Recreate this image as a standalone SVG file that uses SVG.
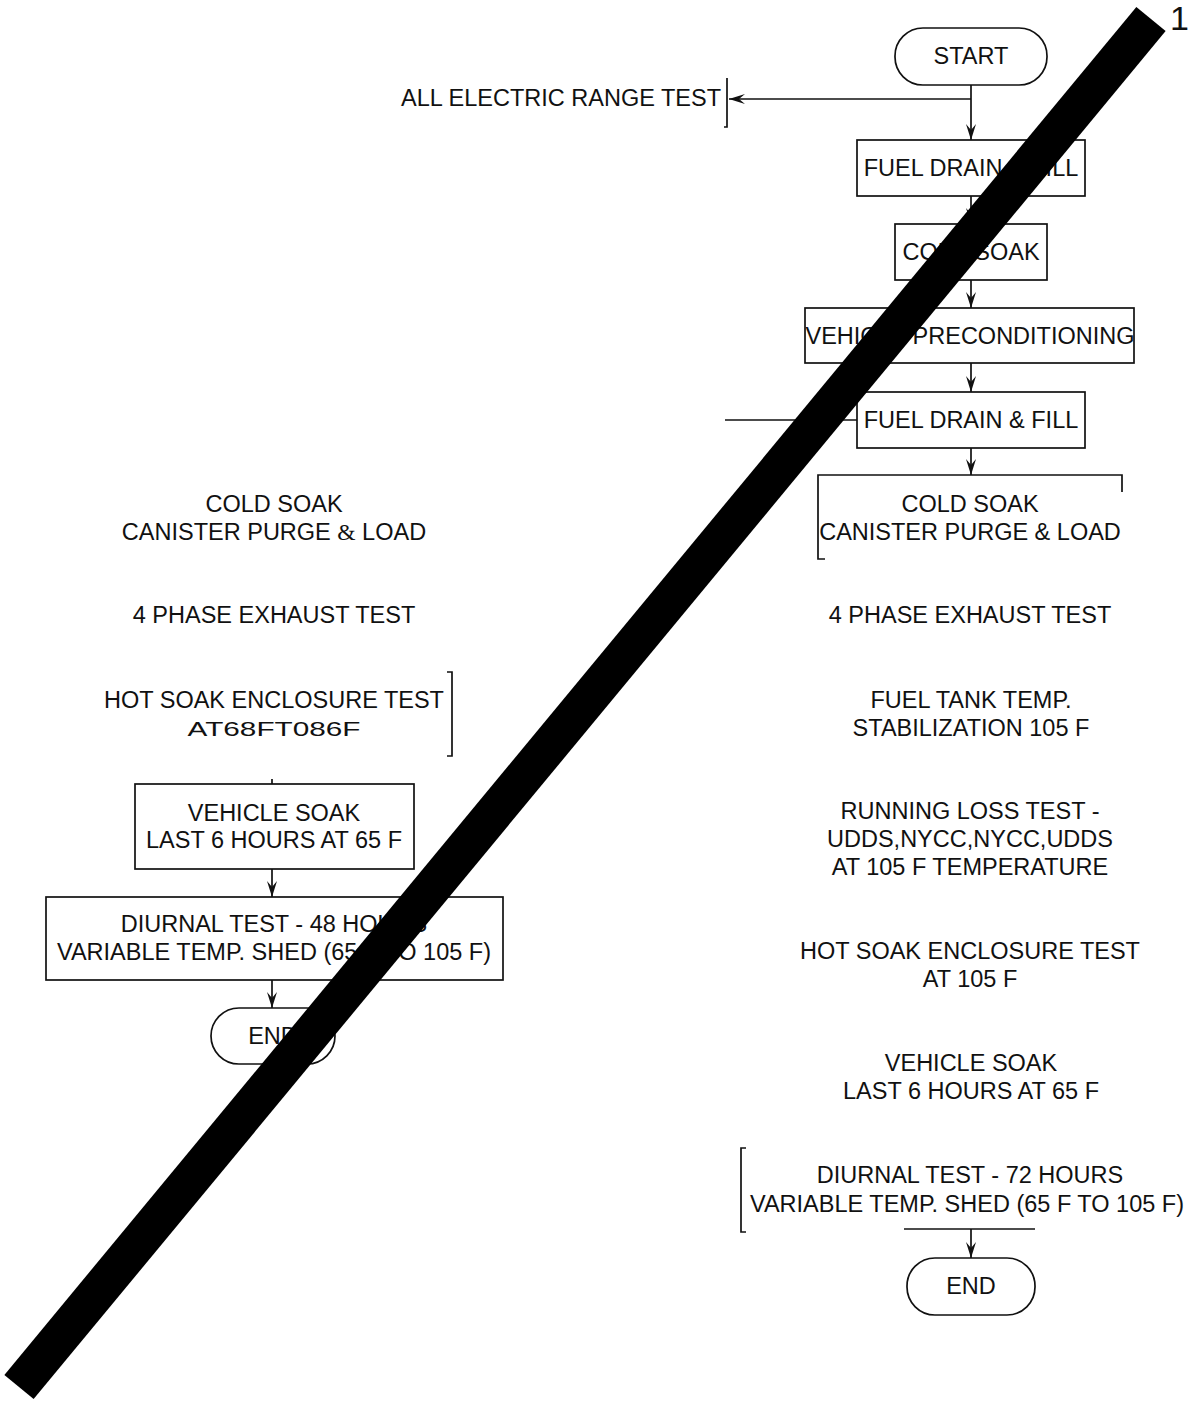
<svg xmlns="http://www.w3.org/2000/svg" width="1193" height="1405" viewBox="0 0 1193 1405">
  <style>
    .t { font-family: "Liberation Sans", Arial, sans-serif; font-size: 23.5px; fill: #111; text-anchor: middle; }
    .box { fill: none; stroke: #111; stroke-width: 1.7; }
    .ln { fill: none; stroke: #111; stroke-width: 1.7; }
  </style>
  <defs>
    <marker id="arr" viewBox="0 0 16 10" refX="16" refY="5" markerWidth="16" markerHeight="10" markerUnits="userSpaceOnUse" orient="auto">
      <path d="M0,0 L16,5 L0,10 L6,5 z" fill="#111"/>
    </marker>
  </defs>
  <rect width="1193" height="1405" fill="#fff"/>

  <!-- connectors -->
  <g id="connectors">
    <line class="ln" x1="971" y1="85" x2="971" y2="140" marker-end="url(#arr)"/>
    <line class="ln" x1="971" y1="99" x2="729" y2="99" marker-end="url(#arr)"/>
    <line class="ln" x1="971" y1="196" x2="971" y2="224" marker-end="url(#arr)"/>
    <line class="ln" x1="971" y1="280" x2="971" y2="308" marker-end="url(#arr)"/>
    <line class="ln" x1="971" y1="363" x2="971" y2="392" marker-end="url(#arr)"/>
    <line class="ln" x1="971" y1="448" x2="971" y2="475" marker-end="url(#arr)"/>
    <line class="ln" x1="725" y1="420" x2="857" y2="420"/>
    <line class="ln" x1="904" y1="1229" x2="1035" y2="1229"/>
    <line class="ln" x1="971" y1="1229" x2="971" y2="1258" marker-end="url(#arr)"/>
    <line class="ln" x1="272" y1="779" x2="272" y2="784"/>
    <line class="ln" x1="272" y1="869" x2="272" y2="897" marker-end="url(#arr)"/>
    <line class="ln" x1="272" y1="980" x2="272" y2="1008" marker-end="url(#arr)"/>
  </g>

  <!-- right column -->
  <g id="start">
    <rect class="box" x="895" y="28" width="152" height="57" rx="28"/>
    <text class="t" x="971" y="64">START</text>
  </g>
  <g id="electric-range">
    <text class="t" x="721" y="106" style="text-anchor:end">ALL ELECTRIC RANGE TEST</text>
    <path class="ln" d="M727,78 V127 H724"/>
  </g>
  <g id="fuel-drain-1">
    <rect class="box" x="857" y="140" width="228" height="56"/>
    <text class="t" x="971" y="176">FUEL DRAIN &amp; FILL</text>
  </g>
  <g id="cold-soak-1">
    <rect class="box" x="895" y="224" width="152" height="56"/>
    <text class="t" x="971" y="260">COLD SOAK</text>
  </g>
  <g id="preconditioning">
    <rect class="box" x="805" y="308" width="329" height="55"/>
    <text class="t" x="970" y="344">VEHICLE PRECONDITIONING</text>
  </g>
  <g id="fuel-drain-2">
    <rect class="box" x="857" y="392" width="228" height="56"/>
    <text class="t" x="971" y="428">FUEL DRAIN &amp; FILL</text>
  </g>
  <g id="cold-soak-purge-r">
    <path class="ln" d="M1122,492 V475 H818 V559 H825"/>
    <text class="t" x="970" y="512">COLD SOAK</text>
    <text class="t" x="970" y="540">CANISTER PURGE &amp; LOAD</text>
  </g>
  <g id="exhaust-r">
    <text class="t" x="970" y="623">4 PHASE EXHAUST TEST</text>
  </g>
  <g id="fuel-tank-temp">
    <text class="t" x="971" y="708">FUEL TANK TEMP.</text>
    <text class="t" x="971" y="736">STABILIZATION 105 F</text>
  </g>
  <g id="running-loss">
    <text class="t" x="970" y="819">RUNNING LOSS TEST -</text>
    <text class="t" x="970" y="847">UDDS,NYCC,NYCC,UDDS</text>
    <text class="t" x="970" y="875">AT 105 F TEMPERATURE</text>
  </g>
  <g id="hot-soak-r">
    <text class="t" x="970" y="959">HOT SOAK ENCLOSURE TEST</text>
    <text class="t" x="970" y="987">AT 105 F</text>
  </g>
  <g id="vehicle-soak-r">
    <text class="t" x="971" y="1071">VEHICLE SOAK</text>
    <text class="t" x="971" y="1099">LAST 6 HOURS AT 65 F</text>
  </g>
  <g id="diurnal-72">
    <path class="ln" d="M746,1148 H741 V1232 H746"/>
    <text class="t" x="970" y="1183">DIURNAL TEST - 72 HOURS</text>
    <text class="t" x="967" y="1212">VARIABLE TEMP. SHED (65 F TO 105 F)</text>
  </g>
  <g id="end-r">
    <rect class="box" x="907" y="1258" width="128" height="57" rx="28"/>
    <text class="t" x="971" y="1294">END</text>
  </g>

  <!-- left column -->
  <g id="cold-soak-purge-l">
    <text class="t" x="274" y="512">COLD SOAK</text>
    <text class="t" x="274" y="540">CANISTER PURGE <tspan style="font-family:'Liberation Serif', serif">&amp;</tspan> LOAD</text>
  </g>
  <g id="exhaust-l">
    <text class="t" x="274" y="623">4 PHASE EXHAUST TEST</text>
  </g>
  <g id="hot-soak-l">
    <text class="t" x="274" y="708">HOT SOAK ENCLOSURE TEST</text>
    <text class="t" x="274" y="736" style="font-size:21px" textLength="173" lengthAdjust="spacingAndGlyphs">AT68FT086F</text>
    <path class="ln" d="M447,672 H452 V756 H447"/>
  </g>
  <g id="vehicle-soak-l">
    <rect class="box" x="135" y="784" width="279" height="85"/>
    <text class="t" x="274" y="821">VEHICLE SOAK</text>
    <text class="t" x="274" y="848">LAST 6 HOURS AT 65 F</text>
  </g>
  <g id="diurnal-48">
    <rect class="box" x="46" y="897" width="457" height="83"/>
    <text class="t" x="274" y="932">DIURNAL TEST - 48 HOURS</text>
    <text class="t" x="274" y="960">VARIABLE TEMP. SHED (65 F TO 105 F)</text>
  </g>
  <g id="end-l">
    <rect class="box" x="211" y="1008" width="124" height="56" rx="28"/>
    <text class="t" x="273" y="1044">END</text>
  </g>

  <!-- page number and strike-through bar -->
  <text x="1170" y="30" style="font-family:'Liberation Sans', Arial, sans-serif; font-size:34px; fill:#111">1</text>
  <line x1="1151" y1="19" x2="19" y2="1387" stroke="#000" stroke-width="38"/>
</svg>
